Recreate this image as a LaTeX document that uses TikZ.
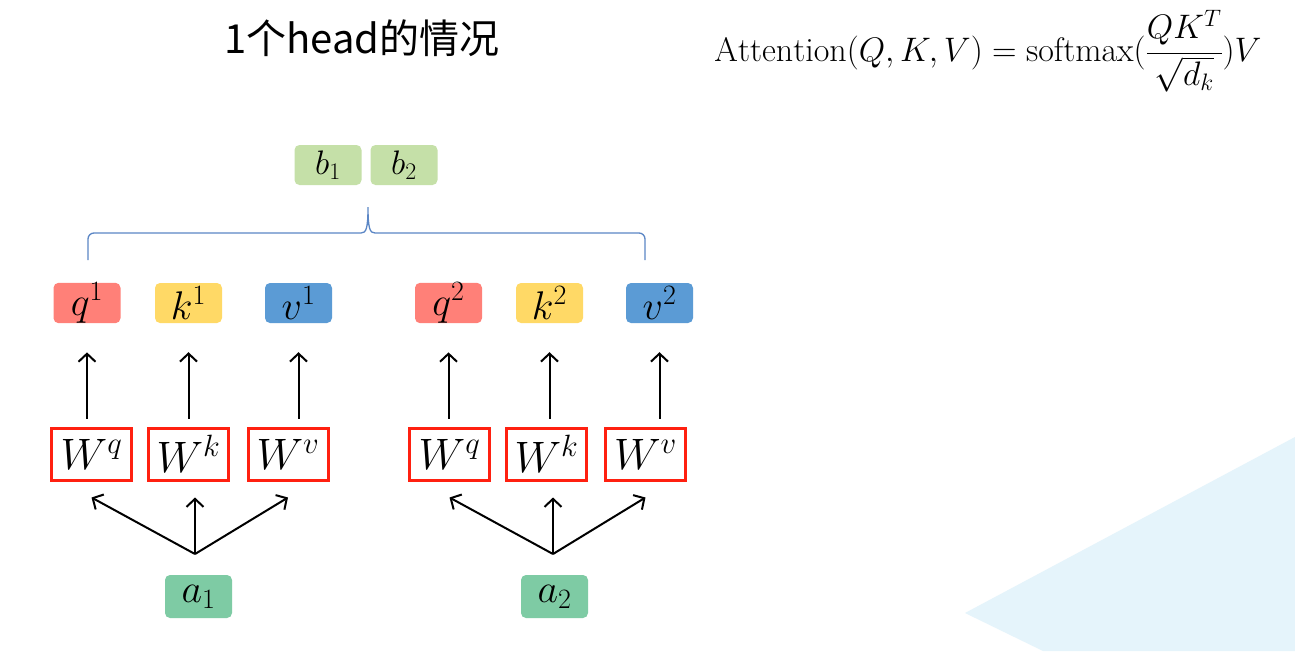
\RequirePackage{fix-cm}
\documentclass[tikz,border=0pt]{standalone}
\usepackage{fontspec}
\newfontfamily\cjk{Noto Sans CJK SC}
\usetikzlibrary{arrows.meta,calc}
\definecolor{qred}{HTML}{FF8078}
\definecolor{kyellow}{HTML}{FFD966}
\definecolor{vblue}{HTML}{5B9BD5}
\definecolor{bgreen}{HTML}{C5E0A8}
\definecolor{agreen}{HTML}{7ECBA4}
\definecolor{wred}{HTML}{FF2010}
\definecolor{braceblue}{HTML}{5B86C5}
\definecolor{bgblue}{HTML}{E5F4FB}
\begin{document}
\begin{tikzpicture}[x=1pt,y=-1pt,
    lab/.style={rounded corners=5pt,minimum width=67pt,minimum height=40pt,inner sep=0pt,font=\fontsize{40}{44}\selectfont},
    wbox/.style={draw=wred,line width=3pt,fill=white,minimum width=80pt,minimum height=52pt,inner sep=0pt,font=\fontsize{44}{48}\selectfont},
    up/.style={-{Straight Barb[length=8pt,width=17pt]},line width=2pt}]
    \fill[white] (0,0) rectangle (1295,651);
    \useasboundingbox (0,0) rectangle (1295,651);
    \fill[bgblue] (965,613) -- (1295,437) -- (1295,651) -- (1043,651) -- cycle;
    % title and formula
    \node (title) at (362,38) {\cjk\fontsize{40}{44}\selectfont 1个head的情况};
    \node (attn) at (988,51) {\fontsize{34}{40}\selectfont $\displaystyle\mathrm{Attention}(Q,K,V)=\mathrm{softmax}(\frac{QK^T}{\sqrt{d_k}})V$};
    % outputs
    \node[lab,fill=bgreen,font=\fontsize{34}{38}\selectfont] (b1) at (328,165) {$b_1$};
    \node[lab,fill=bgreen,font=\fontsize{34}{38}\selectfont] (b2) at (404,165) {$b_2$};
    \draw[braceblue,line width=1.3pt] (88,260) [rounded corners=6pt] -- (88,233) [sharp corners] -- (361,233)
        .. controls (366,233) and (368,229) .. (368,207) .. controls (368,229) and (370,233) .. (375,233)
        [rounded corners=6pt] -- (645,233) -- (645,260);
    % q k v
    \node[lab,fill=qred] (q1) at (87,303) {$q^1$};
    \node[lab,fill=kyellow] (k1) at (188.5,303) {$k^1$};
    \node[lab,fill=vblue] (v1) at (298.5,303) {$v^1$};
    \node[lab,fill=qred] (q2) at (448.5,303) {$q^2$};
    \node[lab,fill=kyellow] (k2) at (549.5,303) {$k^2$};
    \node[lab,fill=vblue] (v2) at (659.5,303) {$v^2$};
    % weights
    \node[wbox] (Wq1) at (91.5,454) {$W^q$};
    \node[wbox] (Wk1) at (188.5,454) {$W^k$};
    \node[wbox] (Wv1) at (288,454) {$W^v$};
    \node[wbox] (Wq2) at (449.5,454) {$W^q$};
    \node[wbox] (Wk2) at (546.5,454) {$W^k$};
    \node[wbox] (Wv2) at (645.5,454) {$W^v$};
    % inputs
    \node[lab,fill=agreen,minimum height=43pt] (a1) at (198.5,596.5) {$a_1$};
    \node[lab,fill=agreen,minimum height=43pt] (a2) at (554.5,596.5) {$a_2$};
    \coordinate (f1) at (195,554);
    \coordinate (f2) at (553,554);
    \foreach \w/\t in {Wq1/q1,Wk1/k1,Wv1/v1,Wq2/q2,Wk2/k2,Wv2/v2}
        \draw[up,shorten <=8pt,shorten >=29pt] (\t.south |- \w.north) -- (\t.south);
    \foreach \f/\l/\m/\r in {f1/Wq1/Wk1/Wv1,f2/Wq2/Wk2/Wv2}{
        \draw[up] (\f) -- ($(\l.south)+(0,16)$);
        \draw[up] (\f) -- ($(\f |- \m.south)+(0,16)$);
        \draw[up] (\f) -- ($(\r.south)+(0,16)$);
    }
\end{tikzpicture}
\end{document}
